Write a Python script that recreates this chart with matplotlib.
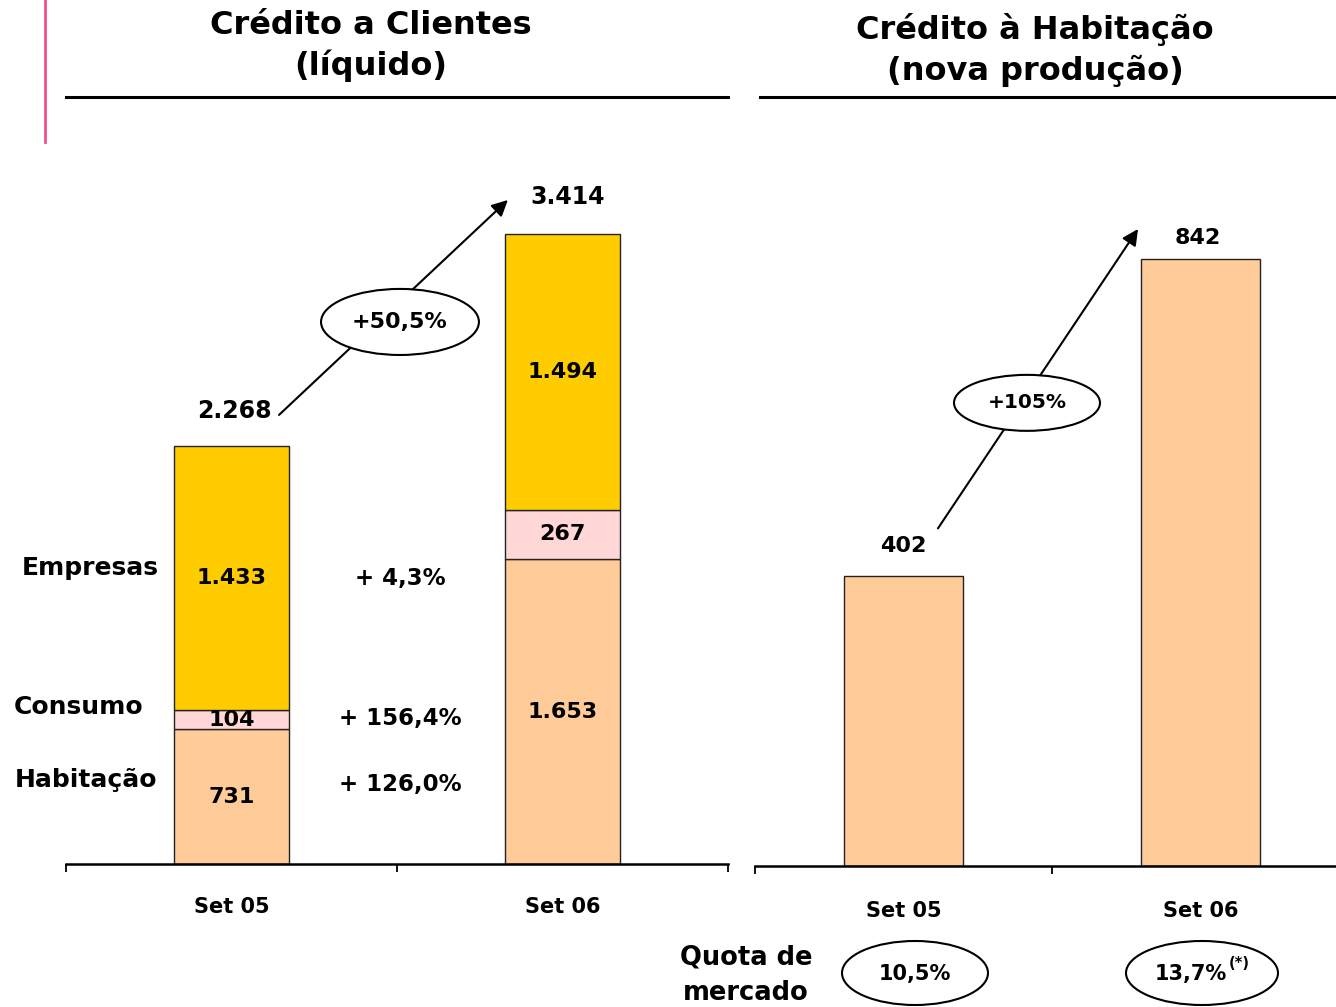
import matplotlib.pyplot as plt
from matplotlib.patches import Ellipse
from matplotlib.lines import Line2D

plt.rcParams['font.family'] = ['DejaVu Sans']
plt.rcParams['font.weight'] = 'bold'

# Crédito a Clientes (líquido), by segment
periods = ['Set 05', 'Set 06']
habitacao = [731, 1653]
consumo = [104, 267]
empresas = [1433, 1494]
segment_names = ['Habitação', 'Consumo', 'Empresas']
segment_growth = ['+ 126,0%', '+ 156,4%', '+ 4,3%']
total_growth = '+50,5%'

# Crédito à Habitação (nova produção)
hab_new = [402, 842]
hab_growth = '+105%'
market_share = ['10,5%', '13,7%']

W, H = 1336, 1007


def fx(x):
    return x / W


def fy(y):
    return 1 - y / H


def fmt(v):
    return f'{v:,}'.replace(',', '.')


def style_axis(ax, label_pad):
    for side in ['top', 'left', 'right']:
        ax.spines[side].set_visible(False)
    ax.spines['bottom'].set_linewidth(1.8)
    ax.set_yticks([])
    ax.set_xlim(-0.5, 1.5)
    ax.set_xticks([0, 1])
    ax.set_xticklabels(periods, fontsize=15, fontweight='bold')
    ax.tick_params(axis='x', which='major', length=0, pad=label_pad)
    ax.set_xticks([-0.5, 0.5, 1.5], minor=True)
    ax.tick_params(axis='x', which='minor', length=6, width=1.3, direction='out')
    ax.patch.set_alpha(0)


fig = plt.figure(figsize=(W / 100, H / 100), dpi=100)

# side marker and title rules
fig.add_artist(Line2D([fx(45), fx(45)], [fy(0), fy(142)], color='#F0508C', lw=2,
                      transform=fig.transFigure))
fig.add_artist(Line2D([fx(66), fx(728)], [fy(97), fy(97)], color='black', lw=2.2,
                      transform=fig.transFigure))
fig.add_artist(Line2D([fx(760), fx(1336)], [fy(97), fy(97)], color='black', lw=2.2,
                      transform=fig.transFigure))
fig.text(fx(371), fy(46), 'Crédito a Clientes\n(líquido)', ha='center', va='center',
         fontsize=23, linespacing=1.35)
fig.text(fx(1035), fy(50), 'Crédito à Habitação\n(nova produção)', ha='center', va='center',
         fontsize=23, linespacing=1.35)

# ---- left: stacked credit to customers
ax1 = fig.add_axes([fx(66), fy(864), 662 / W, 714 / H])
style_axis(ax1, 24)
ax1.set_ylim(0, 3870)

x = [0, 1]
colors = ['#FFCC99', '#FFD7D7', '#FFCC00']
bottom = [0, 0]
for vals, col in zip([habitacao, consumo, empresas], colors):
    ax1.bar(x, vals, width=0.347, bottom=bottom, color=col, edgecolor='#222222', linewidth=1.0)
    for xi, b, v in zip(x, bottom, vals):
        ax1.text(xi, b + v / 2, fmt(v), ha='center', va='center', fontsize=16)
    bottom = [b + v for b, v in zip(bottom, vals)]

totals = bottom
total_offsets = [(2, 25), (4, 27)]
for xi, t, off in zip(x, totals, total_offsets):
    ax1.annotate(fmt(t), (xi, t), xytext=off, textcoords='offset points',
                 ha='center', va='center', fontsize=17)

ax1.annotate('', xy=(0.835, 3599), xytext=(0.1435, 2434),
             arrowprops=dict(arrowstyle='-|>', color='black', lw=1.5,
                             mutation_scale=24, shrinkA=0, shrinkB=0),
             annotation_clip=False)
ax1.add_patch(Ellipse((0.509, 2938), 0.477, 358, facecolor='white', edgecolor='black',
                      lw=1.5, zorder=5, clip_on=False))
ax1.text(0.509, 2938, total_growth, ha='center', va='center', fontsize=16, zorder=6)

# segment names and growth rates
name_pos = [(86, 780), (79, 707), (90, 568)]
growth_pos = [(400, 785), (400, 718), (400, 579)]
for name, g, (nx, ny), (gx, gy) in zip(segment_names, segment_growth, name_pos, growth_pos):
    fig.text(fx(nx), fy(ny), name, ha='center', va='center', fontsize=18)
    fig.text(fx(gx), fy(gy), g, ha='center', va='center', fontsize=16.5)

# ---- right: new mortgage production
ax2 = fig.add_axes([fx(755), fy(866), 594 / W, 716 / H])
style_axis(ax2, 25)
ax2.set_ylim(0, 992.5)
ax2.bar(x, hab_new, width=0.404, color='#FFCC99', edgecolor='#222222', linewidth=1.0)

new_offsets = [(0, 21.5), (-2, 14.5)]
for xi, v, off in zip(x, hab_new, new_offsets):
    ax2.annotate(fmt(v), (xi, v), xytext=off, textcoords='offset points',
                 ha='center', va='center', fontsize=16)

ax2.annotate('', xy=(0.7896, 883), xytext=(0.116, 468),
             arrowprops=dict(arrowstyle='-|>', color='black', lw=1.5,
                             mutation_scale=24, shrinkA=0, shrinkB=0),
             annotation_clip=False)
ax2.add_patch(Ellipse((0.4158, 642), 0.4916, 77.6, facecolor='white', edgecolor='black',
                      lw=1.5, zorder=5, clip_on=False))
ax2.text(0.4158, 642, hab_growth, ha='center', va='center', fontsize=14.5, zorder=6)

# market share row
fig.text(fx(746), fy(975), 'Quota de\nmercado', ha='center', va='center',
         fontsize=18.5, linespacing=1.45)
share_pos = [(915, 973), (1202, 973)]
share_w = [146, 152]
for s, (sx, sy), w in zip(market_share, share_pos, share_w):
    fig.add_artist(Ellipse((fx(sx), fy(sy)), w / W, 64 / H, facecolor='white',
                           edgecolor='black', lw=1.5, transform=fig.transFigure))
fig.text(fx(915), fy(974), market_share[0], ha='center', va='center', fontsize=15)
fig.text(fx(1227), fy(974), market_share[1], ha='right', va='center', fontsize=15)
fig.text(fx(1229), fy(964), '(*)', ha='left', va='center', fontsize=10.5)

fig.savefig('out.png', dpi=100)
